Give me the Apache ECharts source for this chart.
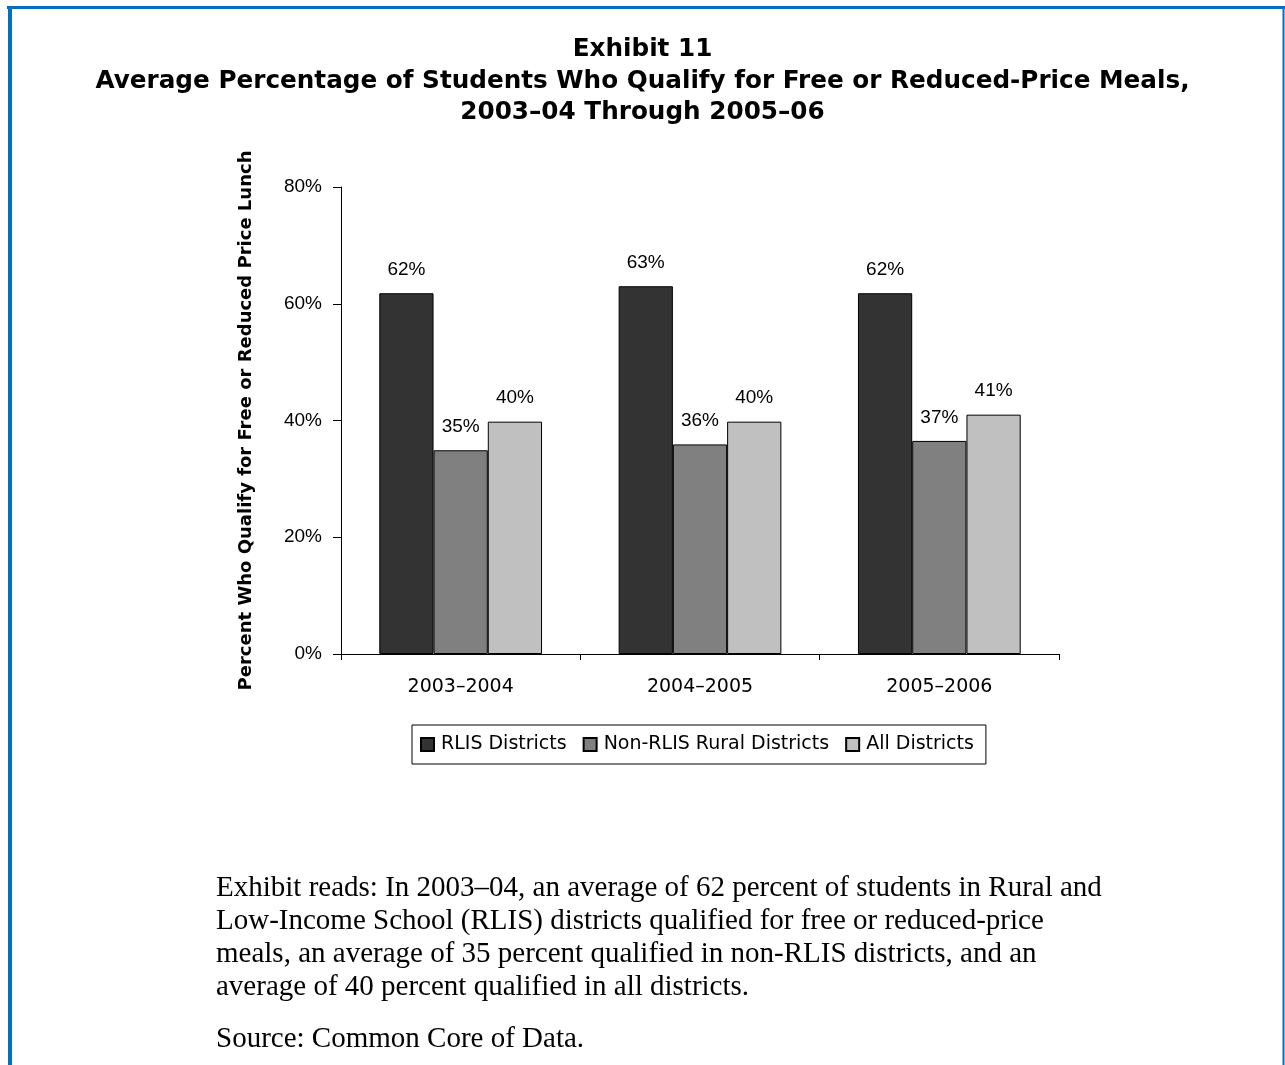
<!DOCTYPE html>
<html>
<head>
<meta charset="utf-8">
<script src="https://cdn.jsdelivr.net/npm/echarts@6/dist/echarts.min.js"></script>
<style>
  html, body { margin: 0; padding: 0; background: #fff; }
  #chart { width: 1285px; height: 1065px; }
</style>
</head>
<body>
<div id="chart"></div>
<script>
var years = ['2003–2004', '2004–2005', '2005–2006'];
var rlis = [61.8, 63.0, 61.8];
var nonRlis = [34.9, 35.9, 36.5];
var allDistricts = [39.8, 39.8, 41.0];
var rlisLabels = ['62%', '63%', '62%'];
var nonRlisLabels = ['35%', '36%', '37%'];
var allLabels = ['40%', '40%', '41%'];

var titleLines = [
    'Exhibit 11',
    'Average Percentage of Students Who Qualify for Free or Reduced-Price Meals,',
    '2003–04 Through 2005–06'
];
var noteLines = [
    'Exhibit reads: In 2003–04, an average of 62 percent of students in Rural and',
    'Low-Income School (RLIS) districts qualified for free or reduced-price',
    'meals, an average of 35 percent qualified in non-RLIS districts, and an',
    'average of 40 percent qualified in all districts.'
];
var sourceText = 'Source: Common Core of Data.';

var myChart = echarts.init(document.getElementById('chart'));

function barSeries(name, values, labels, color) {
    return {
        name: name,
        type: 'bar',
        data: values,
        barGap: '0%',
        barCategoryGap: '32%',
        itemStyle: {
            color: color,
            borderColor: '#000',
            borderWidth: 1
        },
        label: {
            show: true,
            position: 'top',
            distance: 14,
            color: '#000',
            fontFamily: 'Liberation Sans',
            fontSize: 19,
            formatter: function(p) {
                return labels[p.dataIndex];
            }
        }
    };
}

myChart.setOption({
    animation: false,
    backgroundColor: '#fff',
    title: {
        text: titleLines.join('\n'),
        left: 'center',
        top: 29,
        textStyle: {
            fontFamily: 'DejaVu Sans',
            fontWeight: 'bold',
            fontSize: 24.7,
            lineHeight: 31.5,
            color: '#000'
        }
    },
    grid: {left: 341, top: 187, right: 226, bottom: 411},
    legend: {
        left: 412,
        top: 725,
        icon: 'rect',
        itemWidth: 13,
        itemHeight: 13,
        itemGap: 16,
        padding: [10, 12, 10, 8],
        borderColor: '#000',
        borderWidth: 1,
        textStyle: {
            fontFamily: 'DejaVu Sans',
            fontSize: 19,
            color: '#000',
            padding: [0, 0, 0, 2]
        },
        data: ['RLIS Districts', 'Non-RLIS Rural Districts', 'All Districts']
    },
    xAxis: {
        type: 'category',
        data: years,
        axisLine: {lineStyle: {color: '#000', width: 1}},
        axisTick: {show: true, length: 6, lineStyle: {color: '#000'}},
        axisLabel: {
            color: '#000',
            fontFamily: 'DejaVu Sans',
            fontSize: 19,
            margin: 24
        }
    },
    yAxis: {
        type: 'value',
        min: 0,
        max: 80,
        interval: 20,
        name: 'Percent Who Qualify for Free or Reduced Price Lunch',
        nameLocation: 'middle',
        nameGap: 86,
        nameTextStyle: {
            fontFamily: 'DejaVu Sans',
            fontWeight: 'bold',
            fontSize: 18,
            color: '#000'
        },
        splitLine: {show: false},
        axisLine: {show: true, lineStyle: {color: '#000', width: 1}},
        axisTick: {show: true, length: 8, lineStyle: {color: '#000'}},
        axisLabel: {
            color: '#000',
            fontFamily: 'Liberation Sans',
            fontSize: 19,
            margin: 19,
            formatter: '{value}%'
        }
    },
    graphic: [
        {
            type: 'line',
            shape: {x1: 7, y1: 7.5, x2: 1285, y2: 7.5},
            style: {stroke: '#0070C0', lineWidth: 3}
        },
        {
            type: 'line',
            shape: {x1: 10, y1: 6, x2: 10, y2: 1065},
            style: {stroke: '#0070C0', lineWidth: 4}
        },
        {
            type: 'line',
            shape: {x1: 1283.5, y1: 6, x2: 1283.5, y2: 1065},
            style: {stroke: '#0070C0', lineWidth: 2}
        },
        {
            type: 'text',
            left: 216,
            top: 872,
            style: {
                text: noteLines.join('\n'),
                fontFamily: 'Liberation Serif',
                fontSize: 29,
                lineHeight: 33,
                fill: '#000'
            }
        },
        {
            type: 'text',
            left: 216,
            top: 1023,
            style: {
                text: sourceText,
                fontFamily: 'Liberation Serif',
                fontSize: 29,
                lineHeight: 33,
                fill: '#000'
            }
        }
    ],
    series: [
        barSeries('RLIS Districts', rlis, rlisLabels, '#333333'),
        barSeries('Non-RLIS Rural Districts', nonRlis, nonRlisLabels, '#808080'),
        barSeries('All Districts', allDistricts, allLabels, '#C0C0C0')
    ]
});
</script>
</body>
</html>
